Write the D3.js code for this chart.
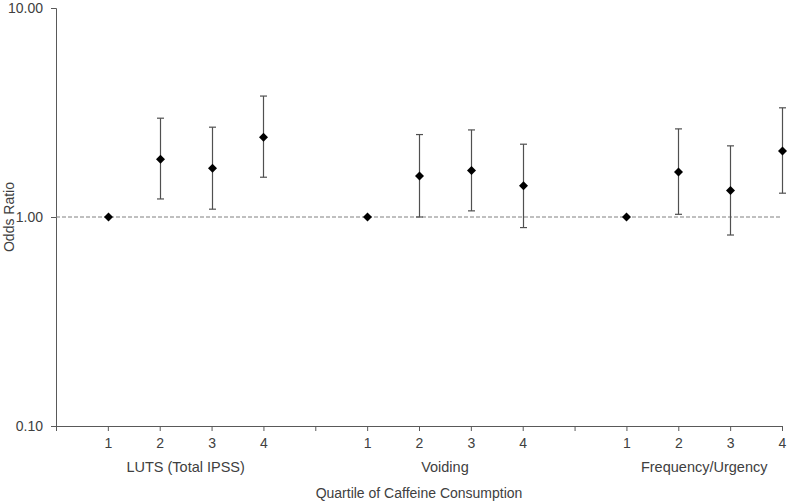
<!DOCTYPE html>
<html>
<head>
<meta charset="utf-8">
<script src="https://cdn.jsdelivr.net/npm/d3@7"></script>
<style>
  html, body { margin: 0; padding: 0; background: #fff; }
  text { font-family: "Liberation Sans", Arial, sans-serif; fill: #404040; }
</style>
</head>
<body>
<svg id="chart" width="789" height="503"></svg>
<script>
// Data
const groups = ["LUTS (Total IPSS)", "Voiding", "Frequency/Urgency"];
const quartiles = ["1", "2", "3", "4"];
const oddsRatio = [
  [1.00, 1.89, 1.71, 2.41],
  [1.00, 1.57, 1.67, 1.41],
  [1.00, 1.64, 1.34, 2.07]
];
const ciLower = [
  [null, 1.22, 1.09, 1.55],
  [null, 1.00, 1.07, 0.89],
  [null, 1.03, 0.82, 1.30]
];
const ciUpper = [
  [null, 2.97, 2.69, 3.79],
  [null, 2.48, 2.61, 2.23],
  [null, 2.64, 2.19, 3.33]
];
const yTicks = [0.1, 1, 10];
const yTickLabels = ["0.10", "1.00", "10.00"];
const xTitle = "Quartile of Caffeine Consumption";
const yTitle = "Odds Ratio";

const svg = d3.select("#chart");
const mLeft = 56, mRight = 782, mTop = 8, mBottom = 426;
const fs = 14;

// category slots: 0 = axis, then 4 per group with a blank slot between groups
const nSlots = groups.length * (quartiles.length + 1) - 1; // 14
const x = d3.scaleLinear().domain([0, nSlots]).range([mLeft, mRight]);
const slot = (g, q) => g * (quartiles.length + 1) + q + 1;
const y = d3.scaleLog().domain([0.1, 10]).range([mBottom, mTop]);

const axisColor = "#595959";

// Y axis
const yAxis = d3.axisLeft(y).tickValues(yTicks)
  .tickFormat((d, i) => yTickLabels[i]).tickSize(5).tickPadding(8);
const gy = svg.append("g").attr("transform", `translate(${mLeft},0)`).call(yAxis);
gy.select(".domain").attr("stroke", axisColor);
gy.selectAll(".tick line").attr("stroke", axisColor);
gy.selectAll(".tick text").attr("font-size", fs).attr("fill", "#404040")
  .attr("font-family", "Liberation Sans, Arial, sans-serif");

// X axis
const xTickVals = d3.range(0, nSlots + 1);
const tickLabel = d => {
  if (d === 0) return "";
  const r = (d - 1) % (quartiles.length + 1);
  return r < quartiles.length ? quartiles[r] : "";
};
const xAxis = d3.axisBottom(x).tickValues(xTickVals).tickFormat(tickLabel)
  .tickSize(5).tickSizeOuter(0).tickPadding(7);
const gx = svg.append("g").attr("transform", `translate(0,${mBottom})`).call(xAxis);
gx.select(".domain").attr("stroke", axisColor);
gx.selectAll(".tick line").attr("stroke", axisColor);
gx.selectAll(".tick text").attr("font-size", fs).attr("fill", "#404040")
  .attr("font-family", "Liberation Sans, Arial, sans-serif");

// Group labels
svg.append("g").selectAll("text").data(groups).join("text")
  .attr("x", (d, g) => x((slot(g, 1) + slot(g, 2)) / 2))
  .attr("y", 472)
  .attr("text-anchor", "middle")
  .attr("font-size", 14.5)
  .text(d => d);

// Axis titles
svg.append("text")
  .attr("x", (mLeft + mRight) / 2).attr("y", 498)
  .attr("text-anchor", "middle").attr("font-size", fs)
  .text(xTitle);
svg.append("text")
  .attr("transform", `translate(14,${(mTop + mBottom) / 2}) rotate(-90)`)
  .attr("text-anchor", "middle").attr("font-size", fs)
  .text(yTitle);

// Reference line at 1.00
svg.append("line")
  .attr("x1", mLeft).attr("x2", mRight)
  .attr("y1", y(1)).attr("y2", y(1))
  .attr("stroke", "#808080").attr("stroke-width", 1)
  .attr("stroke-dasharray", "4,2");

// Points
const pts = [];
groups.forEach((gName, g) => quartiles.forEach((q, i) => {
  pts.push({ g, i, or: oddsRatio[g][i], lo: ciLower[g][i], hi: ciUpper[g][i] });
}));

const cap = 3.5;
const eb = svg.append("g").attr("stroke", "#505050").attr("stroke-width", 1.2);
pts.filter(d => d.lo !== null).forEach(d => {
  const cx = Math.round(x(slot(d.g, d.i))) + 0.5;
  eb.append("line").attr("x1", cx).attr("x2", cx).attr("y1", y(d.lo)).attr("y2", y(d.hi));
  eb.append("line").attr("x1", cx - cap).attr("x2", cx + cap).attr("y1", y(d.lo)).attr("y2", y(d.lo));
  eb.append("line").attr("x1", cx - cap).attr("x2", cx + cap).attr("y1", y(d.hi)).attr("y2", y(d.hi));
});

svg.append("g").selectAll("path").data(pts).join("path")
  .attr("transform", d => `translate(${Math.round(x(slot(d.g, d.i))) + 0.5},${y(d.or)})`)
  .attr("d", "M0,-4.5L4.5,0L0,4.5L-4.5,0Z")
  .attr("fill", "#000");
</script>
</body>
</html>
